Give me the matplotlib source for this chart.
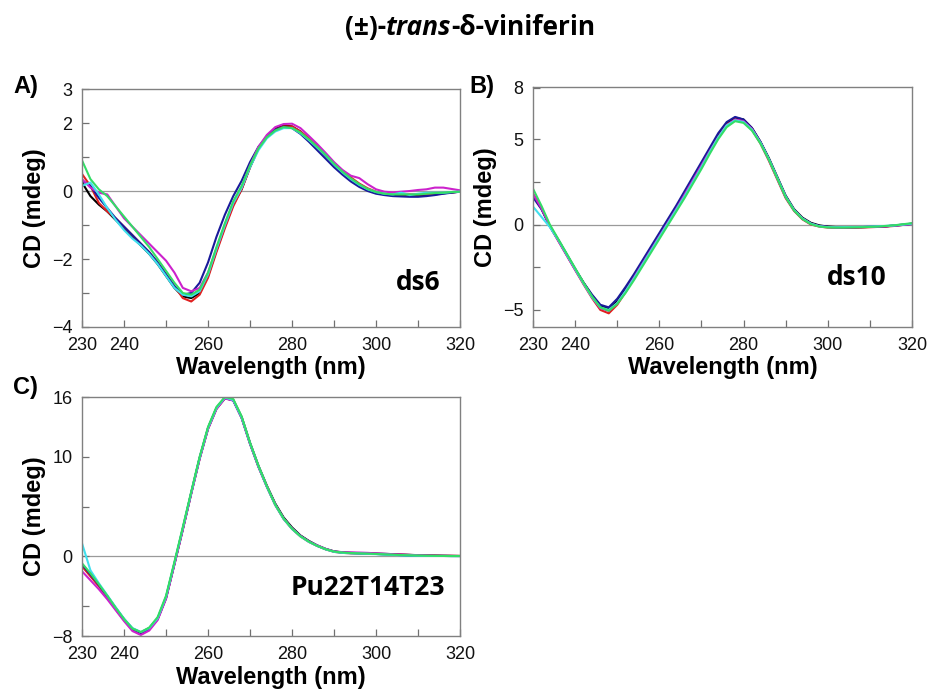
import matplotlib
matplotlib.use("Agg")
import matplotlib.pyplot as plt
import numpy as np

plt.rcParams['font.family'] = ['Liberation Sans', 'DejaVu Sans']

# wavelength grid (nm), every 2 nm
wl = [230, 232, 234, 236, 238, 240, 242, 244, 246, 248, 250, 252, 254, 256, 258, 260,
      262, 264, 266, 268, 270, 272, 274, 276, 278, 280, 282, 284, 286, 288, 290, 292,
      294, 296, 298, 300, 302, 304, 306, 308, 310, 312, 314, 316, 318, 320]

# A) ds6
a_black = [0.25, -0.15, -0.4, -0.6, -0.85, -1.1, -1.35, -1.6, -1.85, -2.15, -2.5, -2.85, -3.1, -3.15, -3.0, -2.5,
           -1.75, -1.05, -0.4, 0.05, 0.7, 1.25, 1.6, 1.83, 1.93, 1.9, 1.75, 1.52, 1.3, 1.05, 0.78, 0.55,
           0.35, 0.18, 0.05, -0.05, -0.1, -0.13, -0.13, -0.13, -0.12, -0.12, -0.1, -0.07, -0.04, -0.02]
a_red = [0.5, 0.15, -0.35, -0.6, -0.8, -1.05, -1.3, -1.55, -1.8, -2.1, -2.45, -2.8, -3.15, -3.25, -3.05, -2.55,
         -1.8, -1.1, -0.45, 0.05, 0.7, 1.25, 1.6, 1.8, 1.9, 1.9, 1.75, 1.55, 1.32, 1.08, 0.82, 0.6,
         0.4, 0.22, 0.08, -0.02, -0.08, -0.1, -0.1, -0.1, -0.1, -0.1, -0.08, -0.06, -0.04, -0.02]
a_blue = [0.3, 0.15, -0.2, -0.5, -0.8, -1.05, -1.3, -1.55, -1.8, -2.1, -2.45, -2.8, -3.05, -3.0, -2.7, -2.1,
          -1.35, -0.7, -0.15, 0.3, 0.85, 1.3, 1.6, 1.8, 1.88, 1.85, 1.68, 1.45, 1.2, 0.95, 0.7, 0.48,
          0.28, 0.12, 0.0, -0.08, -0.12, -0.15, -0.16, -0.17, -0.17, -0.15, -0.12, -0.08, -0.05, -0.02]
a_magenta = [0.35, 0.1, -0.05, -0.1, -0.45, -0.8, -1.05, -1.3, -1.55, -1.8, -2.05, -2.4, -2.85, -2.95, -2.85, -2.4,
             -1.7, -1.0, -0.35, 0.1, 0.75, 1.3, 1.65, 1.88, 1.97, 1.98, 1.85, 1.62, 1.38, 1.12, 0.85, 0.62,
             0.45, 0.38, 0.2, 0.05, -0.02, -0.04, -0.02, 0.0, 0.03, 0.05, 0.1, 0.1, 0.06, 0.02]
a_cyan = [0.15, 0.25, -0.1, -0.5, -0.85, -1.15, -1.4, -1.6, -1.85, -2.15, -2.5, -2.85, -3.05, -3.1, -2.95, -2.45,
          -1.7, -1.0, -0.35, 0.1, 0.7, 1.2, 1.55, 1.75, 1.85, 1.85, 1.7, 1.5, 1.28, 1.05, 0.78, 0.55,
          0.35, 0.18, 0.05, -0.03, -0.08, -0.1, -0.05, -0.12, -0.08, -0.05, -0.05, -0.05, -0.03, -0.02]
a_green = [0.9, 0.35, 0.05, -0.15, -0.45, -0.75, -1.05, -1.35, -1.65, -2.0, -2.35, -2.7, -3.0, -3.05, -2.9, -2.4,
           -1.65, -0.95, -0.3, 0.15, 0.75, 1.25, 1.58, 1.78, 1.88, 1.85, 1.72, 1.52, 1.3, 1.06, 0.8, 0.57,
           0.37, 0.2, 0.06, -0.03, -0.08, -0.1, -0.1, -0.1, -0.1, -0.08, -0.06, -0.05, -0.03, -0.02]

# B) ds10
b_black = [1.7, 0.95, -0.1, -0.9, -1.75, -2.6, -3.4, -4.15, -4.75, -4.95, -4.5, -3.8, -3.05, -2.3, -1.5, -0.7,
           0.1, 0.9, 1.75, 2.6, 3.45, 4.35, 5.2, 5.9, 6.25, 6.15, 5.65, 4.85, 3.9, 2.8, 1.7, 0.9,
           0.4, 0.1, -0.05, -0.12, -0.15, -0.15, -0.15, -0.15, -0.14, -0.12, -0.1, -0.05, 0.0, 0.05]
b_red = [1.8, 1.0, -0.1, -0.95, -1.8, -2.65, -3.5, -4.3, -5.0, -5.2, -4.7, -3.95, -3.15, -2.35, -1.55, -0.75,
         0.05, 0.85, 1.7, 2.55, 3.4, 4.3, 5.15, 5.85, 6.15, 6.05, 5.55, 4.75, 3.75, 2.65, 1.55, 0.8,
         0.3, 0.0, -0.12, -0.18, -0.2, -0.2, -0.2, -0.18, -0.16, -0.14, -0.12, -0.08, -0.02, 0.05]
b_blue = [1.6, 0.9, -0.1, -0.9, -1.75, -2.6, -3.4, -4.1, -4.7, -4.85, -4.35, -3.65, -2.9, -2.1, -1.3, -0.5,
          0.3, 1.1, 1.95, 2.8, 3.65, 4.5, 5.35, 6.0, 6.3, 6.15, 5.65, 4.85, 3.85, 2.75, 1.65, 0.85,
          0.35, 0.05, -0.08, -0.14, -0.16, -0.16, -0.16, -0.15, -0.14, -0.12, -0.1, -0.06, -0.02, 0.03]
b_magenta = [1.8, 0.95, -0.1, -0.95, -1.8, -2.65, -3.45, -4.25, -4.9, -5.05, -4.6, -3.9, -3.1, -2.3, -1.5, -0.7,
             0.1, 0.9, 1.75, 2.6, 3.45, 4.3, 5.1, 5.8, 6.15, 6.05, 5.6, 4.8, 3.8, 2.7, 1.6, 0.85,
             0.35, 0.05, -0.1, -0.15, -0.17, -0.17, -0.16, -0.15, -0.14, -0.12, -0.1, -0.06, -0.02, 0.03]
b_cyan = [1.05, 0.45, -0.15, -0.9, -1.75, -2.6, -3.45, -4.25, -4.85, -5.0, -4.6, -3.9, -3.15, -2.35, -1.55, -0.75,
          0.05, 0.85, 1.65, 2.5, 3.35, 4.25, 5.1, 5.8, 6.1, 6.0, 5.55, 4.8, 3.85, 2.75, 1.65, 0.85,
          0.35, 0.05, -0.1, -0.15, -0.16, -0.15, -0.15, -0.14, -0.12, -0.1, -0.08, -0.05, 0.0, 0.05]
b_green = [2.1, 1.1, 0.0, -0.85, -1.7, -2.55, -3.4, -4.2, -4.85, -5.05, -4.65, -4.0, -3.25, -2.45, -1.65, -0.85,
           -0.05, 0.75, 1.55, 2.4, 3.25, 4.15, 5.0, 5.7, 6.05, 5.95, 5.5, 4.75, 3.8, 2.7, 1.6, 0.82,
           0.32, 0.02, -0.12, -0.17, -0.18, -0.18, -0.17, -0.16, -0.14, -0.12, -0.08, -0.04, 0.02, 0.08]

# C) Pu22T14T23
c_black = [-0.9, -1.9, -2.9, -4.0, -5.2, -6.3, -7.25, -7.65, -7.2, -6.25, -4.1, -0.7, 2.8, 6.4, 9.9, 12.9,
           14.9, 15.9, 15.7, 14.0, 11.4, 9.1, 7.1, 5.3, 3.9, 2.9, 2.1, 1.55, 1.1, 0.75, 0.5, 0.4,
           0.35, 0.32, 0.3, 0.28, 0.25, 0.22, 0.18, 0.15, 0.12, 0.1, 0.08, 0.06, 0.05, 0.04]
c_red = [-1.0, -2.0, -3.0, -4.1, -5.3, -6.4, -7.35, -7.7, -7.25, -6.3, -4.2, -0.8, 2.7, 6.3, 9.8, 12.8,
         14.8, 15.85, 15.7, 13.9, 11.3, 9.0, 7.0, 5.15, 3.75, 2.75, 2.0, 1.45, 1.05, 0.7, 0.45, 0.35,
         0.3, 0.28, 0.26, 0.24, 0.22, 0.2, 0.16, 0.14, 0.12, 0.1, 0.08, 0.06, 0.05, 0.04]
c_blue = [-0.8, -1.8, -2.85, -4.0, -5.2, -6.35, -7.3, -7.7, -7.3, -6.3, -4.2, -0.75, 2.75, 6.35, 9.85, 12.85,
          14.85, 15.9, 15.65, 13.9, 11.3, 9.0, 7.0, 5.2, 3.8, 2.8, 2.05, 1.5, 1.05, 0.72, 0.48, 0.38,
          0.33, 0.3, 0.27, 0.24, 0.2, 0.16, 0.12, 0.08, 0.06, 0.05, 0.04, 0.04, 0.03, 0.03]
c_magenta = [-1.5, -2.4, -3.3, -4.3, -5.4, -6.5, -7.5, -7.9, -7.45, -6.4, -4.25, -0.8, 2.7, 6.3, 9.8, 12.8,
             14.8, 15.85, 15.65, 13.9, 11.3, 9.0, 7.0, 5.2, 3.8, 2.8, 2.05, 1.5, 1.1, 0.75, 0.5, 0.42,
             0.4, 0.38, 0.35, 0.3, 0.26, 0.22, 0.18, 0.14, 0.1, 0.08, 0.06, 0.05, 0.04, 0.03]
c_cyan = [1.3, -1.4, -2.7, -3.9, -5.1, -6.25, -7.2, -7.6, -7.2, -6.2, -4.05, -0.65, 2.85, 6.4, 9.9, 12.9,
          14.9, 15.95, 15.7, 13.95, 11.35, 9.05, 7.0, 5.15, 3.75, 2.75, 2.0, 1.45, 1.05, 0.7, 0.45, 0.35,
          0.3, 0.28, 0.25, 0.22, 0.18, 0.14, 0.1, 0.08, 0.06, 0.05, 0.04, 0.04, 0.03, 0.03]
c_green = [-0.7, -1.7, -2.8, -3.95, -5.15, -6.3, -7.25, -7.6, -7.15, -6.1, -3.95, -0.55, 2.95, 6.5, 10.0, 13.0,
           15.0, 16.0, 15.8, 14.05, 11.4, 9.1, 7.05, 5.2, 3.8, 2.78, 2.02, 1.48, 1.05, 0.72, 0.48, 0.38,
           0.33, 0.3, 0.27, 0.24, 0.2, 0.17, 0.13, 0.1, 0.08, 0.06, 0.05, 0.04, 0.03, 0.03]

colors = ['#000000', '#e02020', '#1a1a9a', '#cc22cc', '#40e0ee', '#33dd66']

panels = [
    dict(rect=[0.0882, 0.5254, 0.4065, 0.3454], curves=[a_black, a_red, a_blue, a_magenta, a_cyan, a_green],
         ylim=(-4, 3), major=[-4, -2, 0, 2, 3], minor=[-3, -1, 1],
         name='ds6', nx=0.889, ny=0.189, letter='A)', lx=0.028, ly=0.874),
    dict(rect=[0.5731, 0.5254, 0.4075, 0.3483], curves=[b_black, b_red, b_blue, b_magenta, b_cyan, b_green],
         ylim=(-6, 8.05), major=[-5, 0, 5, 8], minor=[-2.5, 2.5],
         name='ds10', nx=0.855, ny=0.208, letter='B)', lx=0.518, ly=0.874),
    dict(rect=[0.0882, 0.0769, 0.4065, 0.3469], curves=[c_black, c_red, c_blue, c_magenta, c_cyan, c_green],
         ylim=(-8, 16), major=[-8, 0, 10, 16], minor=[-5, 5],
         name='Pu22T14T23', nx=0.755, ny=0.205, letter='C)', lx=0.027, ly=0.438),
]

fig = plt.figure(figsize=(9.3, 6.89), dpi=100)

for p in panels:
    ax = fig.add_axes(p['rect'])
    ax.axhline(0, color='#9a9a9a', lw=0.9, zorder=1)
    for y, c in zip(p['curves'], colors):
        ax.plot(wl, y, color=c, lw=1.5, zorder=2, solid_joinstyle='round')
    ax.set_xlim(230, 320)
    ax.set_ylim(*p['ylim'])
    ax.set_xticks([230, 240, 260, 280, 300, 320])
    ax.set_xticks([250, 270, 290, 310], minor=True)
    ax.set_yticks(p['major'])
    ax.set_yticks(p['minor'], minor=True)
    ax.tick_params(which='both', direction='in', length=5, width=0.9, color='#707070',
                   labelsize=13, pad=7, labelcolor='#111111')
    for s in ax.spines.values():
        s.set_color('#808080')
        s.set_linewidth(1.0)
    ax.set_xlabel('Wavelength (nm)', fontsize=17, fontweight='bold', labelpad=2)
    ax.set_ylabel('CD (mdeg)', fontsize=17, fontweight='bold', labelpad=4)
    ax.text(p['nx'], p['ny'], p['name'], transform=ax.transAxes, ha='center', va='center',
            fontsize=19, fontweight='bold', family='Open Sans')
    fig.text(p['lx'], p['ly'], p['letter'], ha='center', va='center', fontsize=17, fontweight='bold')

# title with italic "trans"
parts = [('(±)-', 'normal'), ('trans', 'italic'), ('-δ-viniferin', 'normal')]
renderer = fig.canvas.get_renderer()
title_texts = []
for s, st in parts:
    t = fig.text(0, 0.96, s, fontsize=19, fontweight='bold', style=st,
                 family=['Open Sans', 'DejaVu Sans'], va='center', ha='left')
    title_texts.append(t)
widths = [t.get_window_extent(renderer).width for t in title_texts]
x0 = (940 - sum(widths)) / 2
for t, w in zip(title_texts, widths):
    t.set_x(x0 / 930)
    x0 += w

fig.savefig('out.png', dpi=100)
